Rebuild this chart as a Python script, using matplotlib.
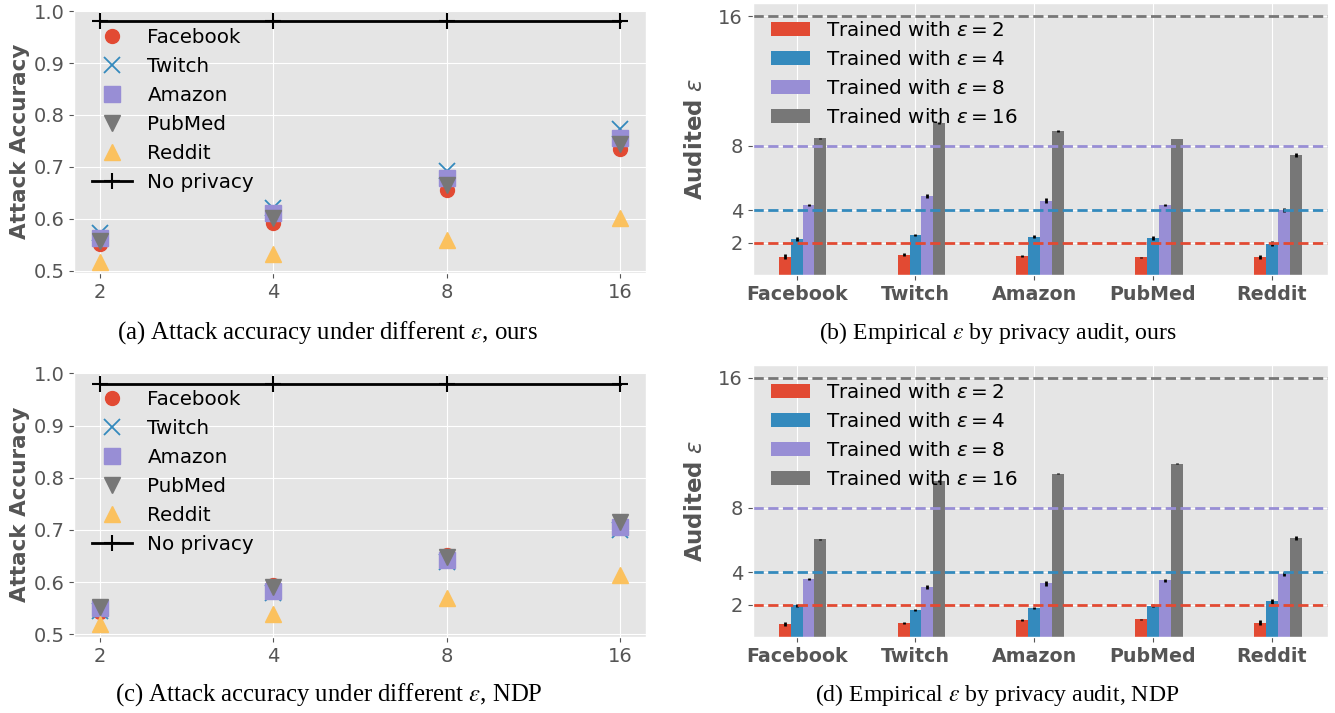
import matplotlib
matplotlib.use("Agg")
import matplotlib.pyplot as plt
import numpy as np

plt.style.use("ggplot")
plt.rcParams["font.family"] = ["DejaVu Sans"]
plt.rcParams["mathtext.fontset"] = "dejavusans"

# ---------------- data ----------------
eps_labels = ["2", "4", "8", "16"]
datasets = ["Facebook", "Twitch", "Amazon", "PubMed", "Reddit"]

# (a) attack accuracy, ours
acc_ours_facebook = [0.552, 0.592, 0.655, 0.734]
acc_ours_twitch = [0.573, 0.621, 0.692, 0.773]
acc_ours_amazon = [0.564, 0.612, 0.679, 0.755]
acc_ours_pubmed = [0.558, 0.602, 0.665, 0.744]
acc_ours_reddit = [0.517, 0.532, 0.559, 0.602]
acc_no_privacy = [0.98, 0.98, 0.98, 0.98]

# (c) attack accuracy, NDP
acc_ndp_facebook = [0.542, 0.594, 0.653, 0.705]
acc_ndp_twitch = [0.545, 0.580, 0.638, 0.700]
acc_ndp_amazon = [0.550, 0.584, 0.642, 0.705]
acc_ndp_pubmed = [0.553, 0.591, 0.648, 0.715]
acc_ndp_reddit = [0.520, 0.540, 0.570, 0.614]

# (b) audited epsilon, ours
audit_ours_e2 = [1.13, 1.26, 1.20, 1.11, 1.11]
audit_ours_e4 = [2.23, 2.47, 2.37, 2.29, 1.94]
audit_ours_e8 = [4.33, 4.89, 4.60, 4.33, 4.00]
audit_ours_e16 = [8.47, 9.40, 8.91, 8.41, 7.42]
err_ours_e2 = [0.15, 0.08, 0.06, 0.03, 0.15]
err_ours_e4 = [0.12, 0.05, 0.08, 0.14, 0.15]
err_ours_e8 = [0.06, 0.12, 0.14, 0.08, 0.12]
err_ours_e16 = [0.03, 0.05, 0.05, 0.03, 0.12]

# (d) audited epsilon, NDP
audit_ndp_e2 = [0.81, 0.87, 1.06, 1.12, 0.91]
audit_ndp_e4 = [1.98, 1.69, 1.82, 1.94, 2.21]
audit_ndp_e8 = [3.58, 3.13, 3.33, 3.52, 3.89]
audit_ndp_e16 = [6.04, 9.63, 10.10, 10.72, 6.14]
err_ndp_e2 = [0.12, 0.06, 0.04, 0.03, 0.14]
err_ndp_e4 = [0.08, 0.05, 0.08, 0.10, 0.16]
err_ndp_e8 = [0.05, 0.12, 0.14, 0.08, 0.12]
err_ndp_e16 = [0.03, 0.05, 0.05, 0.03, 0.12]

trained_eps = [2, 4, 8, 16]

# ---------------- styling ----------------
RED, BLUE, PURPLE, GRAY, YELLOW = "#E24A33", "#348ABD", "#988ED5", "#777777", "#FBC15E"
W, H = 1335, 713
fig = plt.figure(figsize=(W / 100, H / 100), dpi=100)

TICK_FS = 14
LEG_FS = 14.3
YLAB_FS = 15.5


def px_axes(l, r, t, b):
    return fig.add_axes([l / W, 1 - b / H, (r - l) / W, (b - t) / H])


def acc_panel(ax, fb, tw, am, pm, rd):
    x = np.arange(len(eps_labels))
    ax.plot(x, fb, "o", color=RED, ms=10, label="Facebook")
    ax.plot(x, tw, "x", color=BLUE, ms=12, mew=1.3, label="Twitch")
    ax.plot(x, am, "s", color=PURPLE, ms=11, label="Amazon")
    ax.plot(x, pm, "v", color=GRAY, ms=12, label="PubMed")
    ax.plot(x, rd, "^", color=YELLOW, ms=12, label="Reddit")
    ax.plot(x, acc_no_privacy, "-+", color="black", ms=11, mew=1.5, lw=2, label="No privacy")
    ax.set_xticks(x)
    ax.set_xticklabels(eps_labels)
    ax.set_xlim(-0.15, 3.15)
    ax.set_ylim(0.495, 1.002)
    ax.set_yticks([0.5, 0.6, 0.7, 0.8, 0.9, 1.0])
    ax.tick_params(labelsize=TICK_FS)
    ax.set_ylabel("Attack Accuracy", fontsize=YLAB_FS, fontweight="bold", color="#555555")
    ax.yaxis.set_label_coords(-0.077, 0.5)
    ax.legend(loc="upper left", frameon=False, fontsize=LEG_FS)


def audit_panel(ax, e2, e4, e8, e16, r2, r4, r8, r16):
    x = np.arange(len(datasets))
    cols = [RED, BLUE, PURPLE, GRAY]
    offs = [-0.1, 0.0, 0.1, 0.2]
    for vals, errs, c, o, te in zip([e2, e4, e8, e16], [r2, r4, r8, r16], cols, offs, trained_eps):
        ax.bar(x + o, vals, width=0.1, color=c, yerr=errs,
               error_kw=dict(ecolor="black", elinewidth=2, capsize=0),
               label="Trained with $\\varepsilon = %d$" % te)
    for c, te in zip(cols, trained_eps):
        ax.axhline(te, color=c, ls="--", lw=2)
    ax.set_xticks(x)
    ax.set_xticklabels(datasets, fontweight="bold", fontsize=13.7)
    ax.set_yticks(trained_eps)
    ax.set_yticklabels([str(v) for v in trained_eps])
    ax.tick_params(axis="y", labelsize=TICK_FS)
    ax.set_ylim(0, 16.8)
    ax.set_ylabel("Audited $\\varepsilon$", fontsize=16.5, fontweight="bold", color="#555555")
    ax.yaxis.set_label_coords(-0.079, 0.5)
    ax.legend(loc="upper left", frameon=False, fontsize=LEG_FS)


ax_a = px_axes(74, 646, 10, 273.5)
acc_panel(ax_a, acc_ours_facebook, acc_ours_twitch, acc_ours_amazon, acc_ours_pubmed, acc_ours_reddit)
ax_c = px_axes(74, 646, 372.3, 637)
acc_panel(ax_c, acc_ndp_facebook, acc_ndp_twitch, acc_ndp_amazon, acc_ndp_pubmed, acc_ndp_reddit)

ax_b = px_axes(752.7, 1327.7, 3.3, 275)
audit_panel(ax_b, audit_ours_e2, audit_ours_e4, audit_ours_e8, audit_ours_e16,
            err_ours_e2, err_ours_e4, err_ours_e8, err_ours_e16)
ax_d = px_axes(752.7, 1327.7, 365, 637.3)
audit_panel(ax_d, audit_ndp_e2, audit_ndp_e4, audit_ndp_e8, audit_ndp_e16,
            err_ndp_e2, err_ndp_e4, err_ndp_e8, err_ndp_e16)

cap_kw = dict(ha="center", va="center", family="Liberation Serif",
              math_fontfamily="stix", color="black")
fig.text(327.5 / W, 1 - 333 / H, "(a) Attack accuracy under different $\\varepsilon$, ours",
         fontsize=17.8, **cap_kw)
fig.text(997.5 / W, 1 - 333 / H, "(b) Empirical $\\varepsilon$ by privacy audit, ours",
         fontsize=17.1, **cap_kw)
fig.text(329 / W, 1 - 695 / H, "(c) Attack accuracy under different $\\varepsilon$, NDP",
         fontsize=17.8, **cap_kw)
fig.text(997.5 / W, 1 - 695 / H, "(d) Empirical $\\varepsilon$ by privacy audit, NDP",
         fontsize=17.1, **cap_kw)

fig.savefig("out.png", dpi=100, facecolor="white")
